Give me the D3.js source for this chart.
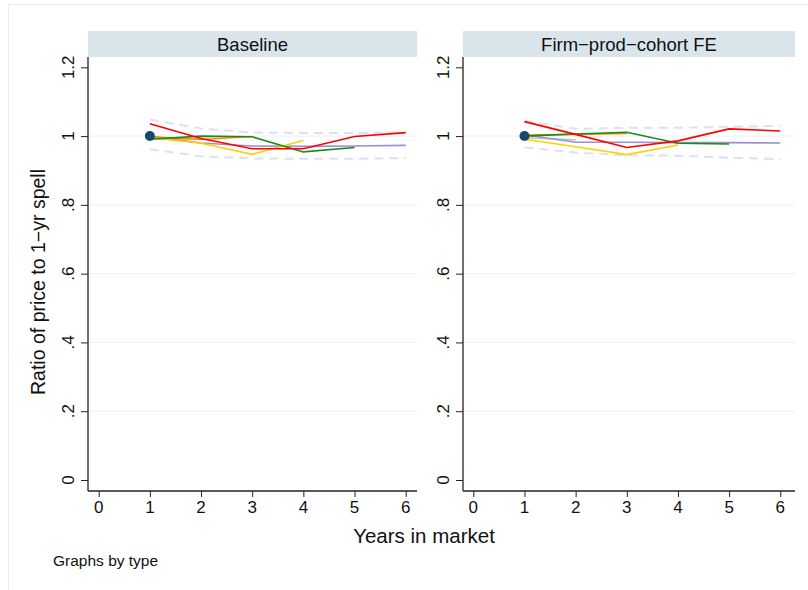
<!DOCTYPE html>
<html>
<head>
<meta charset="utf-8">
<script src="https://cdn.jsdelivr.net/npm/d3@7"></script>
<style>
  body { margin: 0; background: #fff; }
  svg { display: block; font-family: "Liberation Sans", Arial, Helvetica, sans-serif; }
</style>
</head>
<body>
<svg id="chart" width="808" height="590"></svg>
<script>
// ---------- data ----------
const panels = ["Baseline", "Firm\u2212prod\u2212cohort FE"];
const years = [1, 2, 3, 4, 5, 6];
const xTicks = [0, 1, 2, 3, 4, 5, 6];
const yTicks = [0, 0.2, 0.4, 0.6, 0.8, 1, 1.2];
const yTickLabels = ["0", ".2", ".4", ".6", ".8", "1", "1.2"];

// Baseline panel
const baseRed    = [1.036, 0.993, 0.963, 0.963, 0.999, 1.010];
const baseGreen  = [0.991, 1.000, 0.998, 0.954, 0.967];
const baseOrange = [0.997, 0.990, 0.999];
const baseYellow = [0.995, 0.979, 0.947, 0.987];
const baseGray   = [0.999, 0.990];
const basePurple = [1.000, 0.980, 0.971, 0.970, 0.971, 0.973];
const baseUpper  = [1.048, 1.022, 1.010, 1.009, 1.009, 1.010];
const baseLower  = [0.962, 0.941, 0.935, 0.934, 0.934, 0.936];

// Firm-prod-cohort FE panel
const feRed    = [1.042, 1.005, 0.967, 0.986, 1.021, 1.015];
const feGreen  = [1.000, 1.006, 1.011, 0.979, 0.977];
const feOrange = [1.003, 1.005, 1.008];
const feYellow = [0.991, 0.969, 0.946, 0.974];
const feGray   = [0.995, 0.989];
const fePurple = [1.004, 0.982, 0.982, 0.981, 0.981, 0.980];
const feUpper  = [1.045, 1.021, 1.024, 1.024, 1.027, 1.030];
const feLower  = [0.967, 0.952, 0.944, 0.943, 0.937, 0.933];

const startValue = 1.0;

const panelData = [
  {upper: baseUpper, lower: baseLower, gray: baseGray, purple: basePurple, orange: baseOrange, yellow: baseYellow, green: baseGreen, red: baseRed},
  {upper: feUpper, lower: feLower, gray: feGray, purple: fePurple, orange: feOrange, yellow: feYellow, green: feGreen, red: feRed}
];

// ---------- layout ----------
const svg = d3.select("#chart");
const colors = {red: "#ff0000", green: "#1a8a1a", orange: "#ff8c00", yellow: "#ffd000",
                purple: "#9a90d2", gray: "#c4c4c4", ci: "#dedff2", dot: "#1a476f"};

// outer light border
svg.append("rect").attr("x", 8.5).attr("y", 4.5).attr("width", 830).attr("height", 620)
  .attr("fill", "none").attr("stroke", "#e6eef0").attr("stroke-width", 1);

const panelLayouts = [
  {left: 88, right: 417, x0: 98.7, x6: 405.7},
  {left: 463, right: 795, x0: 473.3, x6: 780.3}
];
const headerTop = 31, headerBottom = 57, axisY = 491;

const y = d3.scaleLinear().domain([0, 1.2]).range([480, 67.3]);

panelLayouts.forEach((L, i) => {
  const x = d3.scaleLinear().domain([0, 6]).range([L.x0, L.x6]);
  const g = svg.append("g");
  const d = panelData[i];

  // header
  g.append("rect").attr("x", L.left).attr("y", headerTop)
    .attr("width", L.right - L.left).attr("height", headerBottom - headerTop)
    .attr("fill", "#d9e5eb");
  g.append("text").attr("x", (L.left + L.right) / 2).attr("y", 51)
    .attr("text-anchor", "middle").attr("font-size", 18.5).attr("fill", "#111")
    .text(panels[i]);

  // gridlines
  g.selectAll("line.grid").data(yTicks.filter(t => t > 0 && t < 1.2)).enter().append("line")
    .attr("x1", L.left).attr("x2", L.right)
    .attr("y1", t => y(t)).attr("y2", t => y(t))
    .attr("stroke", "#e8f0f2").attr("stroke-width", 1);

  // y axis
  const yAxis = d3.axisLeft(y).tickValues(yTicks).tickSize(7).tickFormat("");
  const ya = g.append("g").attr("transform", `translate(${L.left},0)`).call(yAxis);
  ya.select(".domain").remove();
  ya.selectAll(".tick line").attr("stroke", "#222").attr("stroke-width", 1);
  g.append("line").attr("x1", L.left).attr("x2", L.left).attr("y1", headerBottom).attr("y2", axisY)
    .attr("stroke", "#222").attr("stroke-width", 1.3);
  g.selectAll("text.ytl").data(yTicks).enter().append("text")
    .attr("transform", (t) => `translate(${L.left - 14},${y(t)}) rotate(-90)`)
    .attr("text-anchor", "middle").attr("font-size", 17).attr("fill", "#111")
    .text((t, j) => yTickLabels[j]);

  // x axis
  const xAxis = d3.axisBottom(x).tickValues(xTicks).tickSize(6).tickFormat("");
  const xa = g.append("g").attr("transform", `translate(0,${axisY})`).call(xAxis);
  xa.select(".domain").remove();
  xa.selectAll(".tick line").attr("stroke", "#222").attr("stroke-width", 1);
  g.append("line").attr("x1", L.left).attr("x2", L.right).attr("y1", axisY).attr("y2", axisY)
    .attr("stroke", "#222").attr("stroke-width", 1.3);
  g.selectAll("text.xtl").data(xTicks).enter().append("text")
    .attr("x", t => x(t)).attr("y", 513)
    .attr("text-anchor", "middle").attr("font-size", 17).attr("fill", "#111")
    .text(t => t);

  const line = d3.line().x((v, j) => x(years[j])).y(v => y(v));

  // CI dashed
  ["upper", "lower"].forEach(k => {
    g.append("path").attr("d", line(d[k])).attr("fill", "none")
      .attr("stroke", colors.ci).attr("stroke-width", 2).attr("stroke-dasharray", "9,6");
  });
  ["gray", "purple", "orange", "yellow", "green", "red"].forEach(k => {
    g.append("path").attr("d", line(d[k])).attr("fill", "none")
      .attr("stroke", colors[k]).attr("stroke-width", 1.6);
  });
  g.append("circle").attr("cx", x(1)).attr("cy", y(startValue)).attr("r", 5)
    .attr("fill", colors.dot);
});

// titles
svg.append("text").attr("transform", `translate(45,282) rotate(-90)`)
  .attr("text-anchor", "middle").attr("font-size", 19.5).attr("fill", "#111")
  .text("Ratio of price to 1\u2212yr spell");
svg.append("text").attr("x", 424).attr("y", 543).attr("text-anchor", "middle")
  .attr("font-size", 20.5).attr("fill", "#111").text("Years in market");
svg.append("text").attr("x", 53).attr("y", 566).attr("font-size", 15.5).attr("fill", "#111")
  .text("Graphs by type");
</script>
</body>
</html>
